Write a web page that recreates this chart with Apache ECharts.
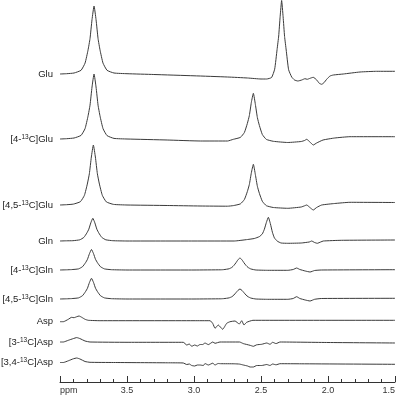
<!DOCTYPE html>
<html><head><meta charset="utf-8">
<script src="https://cdn.jsdelivr.net/npm/echarts@6/dist/echarts.min.js"></script>
<style>html,body{margin:0;padding:0;background:#fff}#c{width:400px;height:396px}</style>
</head><body><div id="c"></div>
<script>
// Trace names (top to bottom)
const traceNames = ['Glu', '[4-¹³C]Glu', '[4,5-¹³C]Glu', 'Gln', '[4-¹³C]Gln', '[4,5-¹³C]Gln', 'Asp', '[3-¹³C]Asp', '[3,4-¹³C]Asp'];
// x-axis tick values (ppm)
const ppmTicks = [1.5, 2.0, 2.5, 3.0, 3.5, 4.0];

// Spectra: [ppm, intensity]
const glu = [[4.0,0],[3.95,0.3],[3.895,1],[3.843,3.7],[3.813,10.9],[3.791,23.8],[3.776,35.4],[3.761,54.4],[3.746,68],[3.731,54.4],[3.716,35.4],[3.701,23.8],[3.679,10.9],[3.649,3.7],[3.597,1],[3.50,0.3],[3.30,-0.5],[3.00,-1.8],[2.75,-3],[2.60,-4],[2.50,-5],[2.458,-5],[2.421,-3.5],[2.398,4.8],[2.380,24.5],[2.368,38],[2.357,57.7],[2.346,73.5],[2.335,57.2],[2.324,37.5],[2.312,24],[2.294,4.3],[2.271,-3],[2.25,-6],[2.225,-7],[2.196,-6],[2.172,-4.7],[2.155,-5.3],[2.134,-4.3],[2.110,-3.3],[2.084,-6],[2.065,-9.3],[2.047,-10.3],[2.030,-8.7],[2.010,-5.3],[1.985,-2],[1.960,-1],[1.886,0],[1.761,2],[1.637,2.7],[1.5,2.7]];
const glu4 = [[4.0,0],[3.95,0.3],[3.895,1],[3.843,3.6],[3.813,10.4],[3.791,22.8],[3.776,33.8],[3.761,52],[3.746,65],[3.731,52],[3.716,33.8],[3.701,22.8],[3.679,10.4],[3.649,3.4],[3.597,0.6],[3.50,0],[3.20,-1],[2.95,-2],[2.75,-2],[2.706,-0.3],[2.654,1.6],[2.624,6.5],[2.602,15.5],[2.587,23.4],[2.572,36.6],[2.557,45.7],[2.542,34.6],[2.527,21.4],[2.512,13.5],[2.490,4.5],[2.460,-0.4],[2.408,-2.3],[2.30,-3.5],[2.20,-2.5],[2.175,-1.5],[2.159,-0.3],[2.135,-3],[2.110,-6],[2.085,-4],[2.037,-1],[1.95,1],[1.836,2.3],[1.5,2.3]];
const glu45 = [[4.0,0],[3.95,0.3],[3.9,0.9],[3.848,3.3],[3.818,9.6],[3.796,21],[3.781,31.2],[3.766,48],[3.751,60],[3.736,48],[3.721,31.2],[3.706,21],[3.684,9.6],[3.654,3.1],[3.60,0.6],[3.5,0],[3.2,-0.5],[2.955,-1],[2.75,-1.2],[2.706,-0.6],[2.654,1.1],[2.624,5.5],[2.602,13.4],[2.587,20.5],[2.572,32.2],[2.557,40.7],[2.542,30.4],[2.527,18.7],[2.512,11.6],[2.490,3.7],[2.460,-0.7],[2.408,-2.5],[2.30,-3.3],[2.20,-2],[2.175,-0.8],[2.159,0],[2.135,-2.5],[2.110,-5],[2.085,-2.5],[2.047,0],[1.95,1.5],[1.836,2.7],[1.5,2.5]];
const gln = [[4.0,0],[3.95,0.2],[3.904,0.3],[3.852,1.2],[3.822,3.6],[3.800,7.9],[3.785,11.8],[3.770,18.2],[3.755,22.7],[3.740,18.2],[3.725,11.8],[3.710,7.9],[3.688,3.6],[3.658,1.2],[3.606,0.3],[3.5,0],[3.0,0],[2.70,0],[2.60,1.5],[2.55,2.5],[2.512,4.4],[2.49,7.1],[2.475,11.7],[2.460,18.5],[2.445,23.7],[2.430,17.3],[2.415,8.8],[2.400,3.1],[2.378,-0.2],[2.35,-2],[2.30,-2.3],[2.20,-2],[2.14,-1],[2.122,0],[2.10,-1.5],[2.080,-2.3],[2.055,-1],[2.035,0],[1.9,0.7],[1.5,1]];
const gln4 = [[4.0,0],[3.95,0.2],[3.914,0.4],[3.862,1.1],[3.832,3.3],[3.810,7.2],[3.795,10.7],[3.780,16.4],[3.765,20.5],[3.750,16.4],[3.735,10.7],[3.720,7.2],[3.698,3.3],[3.668,1.1],[3.616,0.3],[3.5,0],[3.0,0],[2.80,0.2],[2.776,0.4],[2.739,1.2],[2.717,2.6],[2.702,4.6],[2.687,7.2],[2.672,10.2],[2.657,12],[2.642,10.2],[2.627,7.2],[2.612,4.6],[2.597,2.6],[2.575,1],[2.538,0],[2.45,-0.3],[2.30,-0.3],[2.26,0.5],[2.234,2],[2.21,0.5],[2.17,-1],[2.134,-2],[2.10,-0.5],[2.05,0],[1.5,0.3]];
const gln45 = [[4.0,0],[3.95,0.2],[3.914,0.4],[3.862,1.1],[3.832,3.3],[3.810,7.3],[3.795,10.8],[3.780,16.6],[3.765,20.7],[3.750,16.6],[3.735,10.8],[3.720,7.3],[3.698,3.3],[3.668,1.1],[3.616,0.3],[3.5,0],[3.0,0],[2.80,0.2],[2.776,0.4],[2.739,1.1],[2.717,2.3],[2.702,4],[2.687,6.3],[2.672,8.6],[2.657,10],[2.642,8.6],[2.627,6.3],[2.612,4],[2.597,2.3],[2.575,0.9],[2.538,0],[2.45,-0.3],[2.30,-0.3],[2.26,0.5],[2.234,2.3],[2.21,0.5],[2.17,-1],[2.134,-2],[2.10,-0.3],[2.05,0.5],[1.5,0.7]];
const asp = [[4.0,-0.2],[3.975,-0.2],[3.938,2.2],[3.913,4.2],[3.896,3.8],[3.875,4.8],[3.858,5.5],[3.838,4.2],[3.813,2.2],[3.789,1.2],[3.701,0.8],[3.0,0.8],[2.88,0.8],[2.86,-2],[2.843,-6.8],[2.819,-3.5],[2.786,-7.8],[2.756,-1.8],[2.731,-0.2],[2.694,0.5],[2.662,-2.5],[2.644,0.8],[2.627,-3.5],[2.607,-0.8],[2.560,1.2],[1.5,1.2]];
const asp3 = [[4.0,0],[3.975,0],[3.938,1.7],[3.901,3.4],[3.875,4.4],[3.851,3.4],[3.813,1],[3.776,0],[3.5,-0.3],[3.08,-0.3],[3.054,-3],[3.035,-2],[3.017,-4.3],[2.995,-3],[2.975,-4],[2.955,-2.5],[2.935,-2.5],[2.918,-1],[2.893,-2.6],[2.860,0],[2.843,-1.3],[2.806,0],[2.66,0],[2.632,-1.6],[2.582,-3.3],[2.557,-4.3],[2.532,-2.8],[2.495,-2.3],[2.457,-1],[2.433,-2.3],[2.413,-0.3],[2.388,-1.6],[2.358,0],[2.0,-0.5],[1.5,-1]];
const asp34 = [[4.0,0],[3.975,0],[3.938,1.7],[3.901,3.7],[3.875,4.5],[3.851,3.5],[3.813,1],[3.776,0.2],[3.6,0],[3.2,-0.3],[3.08,-0.5],[3.054,-2],[3.035,-1.5],[3.017,-3],[2.995,-3.5],[2.975,-2.5],[2.955,-2.5],[2.93,-3],[2.918,-1],[2.893,-2.5],[2.86,-0.7],[2.843,-2.5],[2.82,-1],[2.80,-1.2],[2.70,-1.3],[2.66,-1.6],[2.632,-2.5],[2.60,-3.5],[2.582,-4.5],[2.557,-4.5],[2.532,-3],[2.495,-3],[2.457,-2],[2.433,-3],[2.413,-1.5],[2.388,-2.3],[2.358,-1.2],[2.2,-1.3],[1.5,-1.8]];

const spectra = [glu, glu4, glu45, gln, gln4, gln45, asp, asp3, asp34];
// layout: vertical stacking offset of each trace (in y-axis units)
const stackOffset = [308, 243, 177, 141, 112, 83, 60.5, 40, 19.5];

const chart = echarts.init(document.getElementById('c'), null, {renderer: 'canvas'});
const font = 'Liberation Sans, Arial, sans-serif';
const nameByOffset = {};
stackOffset.forEach((o, i) => { nameByOffset[o] = traceNames[i]; });

chart.setOption({
  animation: false,
  backgroundColor: '#fff',
  grid: {left: 60, right: 5, top: 0, bottom: 14, containLabel: false, outerBoundsMode: 'none'},
  xAxis: {
    type: 'value', min: 1.5, max: 4.0, interval: 0.5, inverse: true,
    axisLine: {show: true, lineStyle: {color: '#333', width: 1}},
    axisTick: {show: true, inside: true, length: 6, lineStyle: {color: '#333', width: 1}},
    minorTick: {show: true, splitNumber: 5, length: 3, lineStyle: {color: '#333', width: 1}},
    splitLine: {show: false},
    axisLabel: {
      margin: 4, fontSize: 9, color: '#333', fontFamily: font,
      alignMinLabel: 'right', alignMaxLabel: 'left',
      formatter: v => (v === 4 ? 'ppm' : v.toFixed(1))
    }
  },
  yAxis: {
    type: 'value', min: 0, max: 382,
    axisLine: {show: false}, axisTick: {show: false}, splitLine: {show: false},
    axisLabel: {
      show: true, customValues: stackOffset, margin: 7, fontSize: 9.5, lineHeight: 11, color: '#222', fontFamily: font,
      formatter: v => (nameByOffset[v] || '').replace('¹³', '{s|13}'),
      rich: {s: {fontSize: 6.5, lineHeight: 7, verticalAlign: 'top', color: '#222', fontFamily: font}}
    }
  },
  series: spectra.map((d, i) => ({
    type: 'line', name: traceNames[i], showSymbol: false, symbol: 'none', clip: false,
    smooth: 0.15,
    lineStyle: {color: '#3a3a3a', width: 1},
    data: d.map(p => [p[0], p[1] + stackOffset[i]])
  }))
});
</script>
</body></html>
